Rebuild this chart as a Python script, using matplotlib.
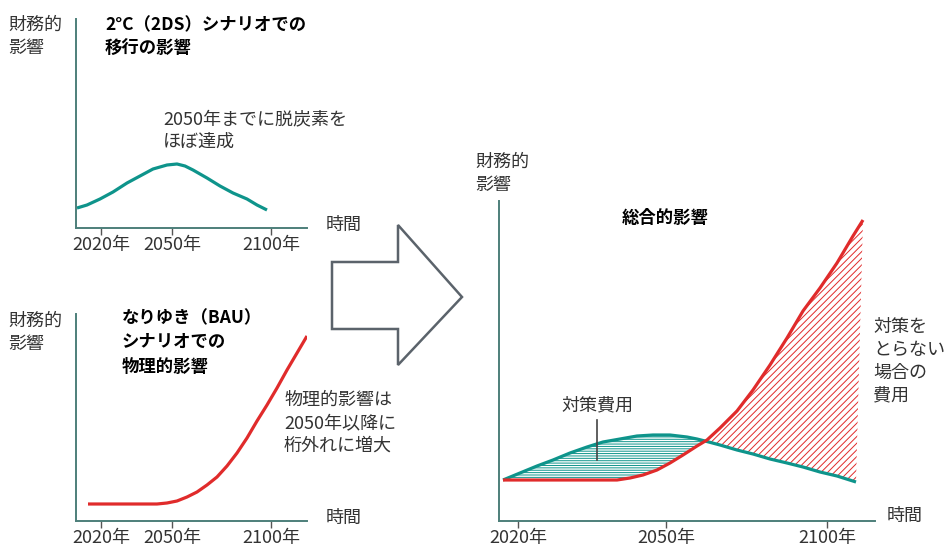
import matplotlib
matplotlib.use("Agg")
import matplotlib.pyplot as plt
from matplotlib.patches import Polygon

plt.rcParams["font.family"] = ["Noto Sans CJK JP", "DejaVu Sans"]
plt.rcParams["hatch.linewidth"] = 0.7

TEAL = "#0e948b"
RED = "#e02b2b"
AXIS = "#4d7f7a"
TEXT = "#333333"
W, H = 944, 550

# schematic time axis (arbitrary units), years only as tick labels
TICK_LABELS = ["2020年", "2050年", "2100年"]
SMALL_TICKS = [25, 96, 195]
BIG_TICKS = [19, 167, 328]

# 2DS scenario: transition impact
tds_x = [1, 11, 24, 37, 51, 64, 77, 91, 101, 109, 117, 131, 144, 157, 171, 181, 191]
tds_y = [20, 23, 29, 36, 45, 52, 59, 63, 64, 62, 58, 50, 42, 35, 29, 23, 18]

# BAU scenario: physical impact
bau_x = [12, 81, 91, 101, 111, 121, 131, 141, 151, 161, 171, 181, 191, 201, 211, 221, 231]
bau_y = [17, 17, 18, 20, 24, 29, 36, 44, 55, 68, 83, 100, 116, 133, 151, 168, 185]

# combined impact
mix_teal_x = [4, 21, 38, 54, 71, 88, 104, 121, 138, 154, 171, 188, 198, 206,
              221, 238, 254, 271, 288, 304, 321, 338, 357]
mix_teal_y = [41, 48, 55, 61, 68, 74, 79, 82, 85, 86, 86, 84, 82, 80,
              76, 71, 67, 62, 58, 54, 49, 45, 39]
mix_red_x = [4, 118, 131, 144, 158, 171, 184, 198, 208, 221, 238, 254, 271,
             288, 304, 321, 338, 354, 364]
mix_red_y = [41, 41, 43, 46, 51, 58, 66, 75, 81, 93, 110, 131, 156,
             183, 210, 233, 258, 285, 301]
CROSS_X = 206


def panel(fig, left, top, right, bottom, ticks):
    ax = fig.add_axes([left / W, 1 - bottom / H, (right - left) / W, (bottom - top) / H])
    ax.set_xlim(0, right - left)
    ax.set_ylim(0, bottom - top)
    ax.patch.set_visible(False)
    for s in ["top", "right"]:
        ax.spines[s].set_visible(False)
    for s in ["left", "bottom"]:
        ax.spines[s].set_color(AXIS)
        ax.spines[s].set_linewidth(1.4)
    ax.set_yticks([])
    ax.set_xticks(ticks, TICK_LABELS)
    ax.tick_params(axis="x", length=5, width=1, color="#555555", pad=1,
                   labelsize=13, labelcolor=TEXT)
    return ax


fig = plt.figure(figsize=(W / 100, H / 100), dpi=100)
line_kw = dict(lw=2.3, solid_capstyle="butt", solid_joinstyle="round")

# top left
ax1 = panel(fig, 76, 19, 307, 228, SMALL_TICKS)
ax1.plot(tds_x, tds_y, color=TEAL, **line_kw)

# bottom left
ax2 = panel(fig, 76, 314, 307, 521, SMALL_TICKS)
ax2.plot(bau_x, bau_y, color=RED, **line_kw)

# right: combined
ax3 = panel(fig, 499, 201, 875, 521, BIG_TICKS)
teal_pts = list(zip(mix_teal_x, mix_teal_y))
red_pts = list(zip(mix_red_x, mix_red_y))
cost_poly = [p for p in teal_pts if p[0] <= CROSS_X] + \
    [p for p in red_pts if p[0] <= CROSS_X + 2][::-1]
loss_poly = [p for p in red_pts if p[0] >= CROSS_X] + \
    [p for p in teal_pts if p[0] >= CROSS_X][::-1]
ax3.add_patch(Polygon(cost_poly, closed=True, facecolor="none", edgecolor=TEAL,
                      hatch="-" * 7, linewidth=0))
ax3.add_patch(Polygon(loss_poly, closed=True, facecolor="none", edgecolor=RED,
                      hatch="/" * 5, linewidth=0))
ax3.plot(mix_teal_x, mix_teal_y, color=TEAL, **line_kw)
ax3.plot(mix_red_x, mix_red_y, color=RED, **line_kw)
ax3.plot([98, 98], [101, 61], color="#444444", lw=1.2)

# overlay in pixel coordinates for free text and the arrow
ov = fig.add_axes([0, 0, 1, 1])
ov.set_xlim(0, W)
ov.set_ylim(H, 0)
ov.axis("off")

ov.add_patch(Polygon([(332, 262), (398, 262), (398, 225), (462, 297),
                      (398, 365), (398, 329), (332, 329)], closed=True,
                     facecolor="white", edgecolor="#5b636b", lw=1.8))

kw = dict(fontsize=13, color=TEXT, linespacing=1.35)
bold = dict(fontsize=12.5, color="black", fontweight="bold", linespacing=1.45)

ov.text(8, 16, "財務的\n影響", va="top", **kw)
ov.text(105, 16, "2°C（2DS）シナリオでの\n移行の影響", va="top", **bold)
ov.text(163, 110, "2050年までに脱炭素を\nほぼ達成", va="top", **kw)
ov.text(326, 225, "時間", va="center", **kw)

ov.text(8, 312, "財務的\n影響", va="top", **kw)
ov.text(122, 309, "なりゆき（BAU）\nシナリオでの\n物理的影響", va="top", **bold)
ov.text(284, 391, "物理的影響は\n2050年以降に\n桁外れに増大", va="top", **kw)
ov.text(326, 518, "時間", va="center", **kw)

ov.text(475, 153, "財務的\n影響", va="top", **kw)
ov.text(665, 218, "総合的影響", ha="center", va="center", **bold)
ov.text(597, 405, "対策費用", ha="center", va="center", **kw)
ov.text(873, 318, "対策を\nとらない\n場合の\n費用", va="top", **kw)
ov.text(887, 516, "時間", va="center", **kw)

fig.savefig("out.png", dpi=100)
